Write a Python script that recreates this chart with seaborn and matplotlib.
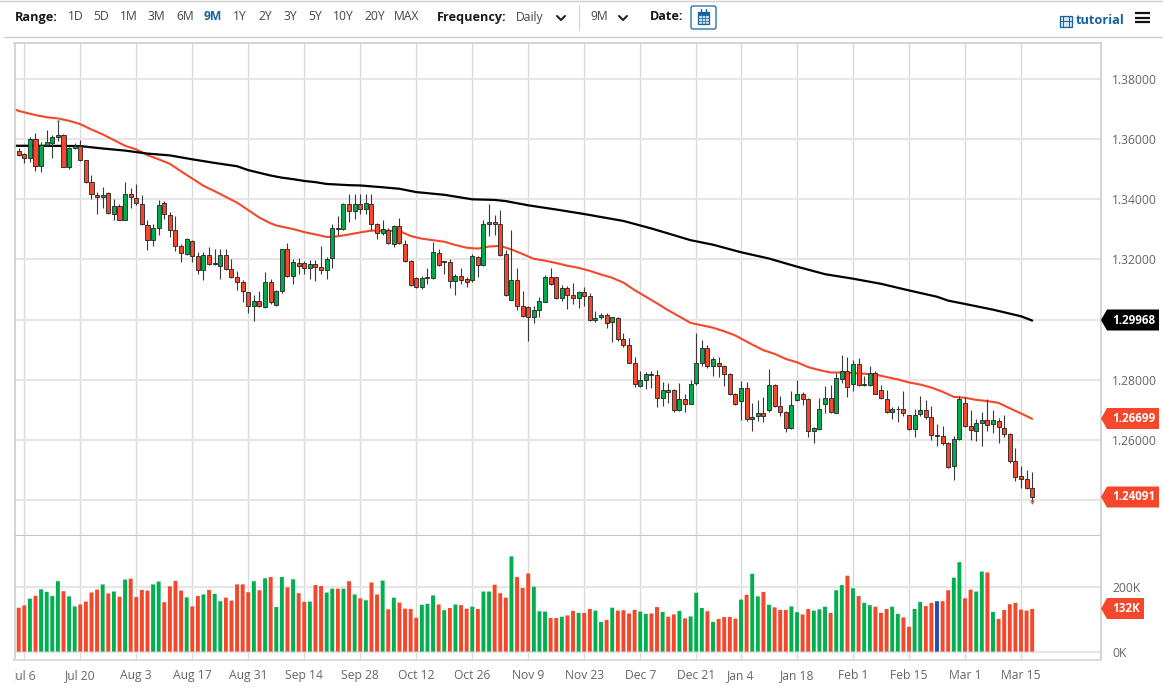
import numpy as np
import pandas as pd
import matplotlib
matplotlib.use('Agg')
import matplotlib.pyplot as plt
import seaborn as sns
from matplotlib.patches import Polygon, Rectangle, FancyBboxPatch
from matplotlib.transforms import Bbox

# daily candles, oldest first
open_px = [
    1.3561,1.3551,1.3538,1.3600,1.3510,1.3581,1.3588,1.3606,1.3613,1.3506,
    1.3571,1.3577,1.3532,1.3456,1.3415,1.3407,1.3422,1.3352,1.3377,1.3331,
    1.3419,1.3404,1.3385,1.3316,1.3264,1.3303,1.3388,1.3349,1.3298,1.3245,
    1.3219,1.3263,1.3213,1.3166,1.3215,1.3184,1.3178,1.3216,1.3169,1.3143,
    1.3124,1.3091,1.3044,1.3062,1.3042,1.3124,1.3048,1.3094,1.3236,1.3145,
    1.3189,1.3189,1.3173,1.3184,1.3176,1.3164,1.3204,1.3306,1.3300,1.3384,
    1.3360,1.3384,1.3369,1.3386,1.3317,1.3288,1.3299,1.3253,1.3310,1.3253,
    1.3194,1.3139,1.3110,1.3137,1.3137,1.3220,1.3190,1.3190,1.3127,1.3144,
    1.3134,1.3133,1.3209,1.3182,1.3319,1.3325,1.3319,1.3217,1.3066,1.3133,
    1.3044,1.3043,1.3007,1.3031,1.3060,1.3140,1.3140,1.3073,1.3104,1.3081,
    1.3072,1.3091,1.3080,1.2997,1.3007,1.3014,1.2992,1.3004,1.2935,1.2917,
    1.2857,1.2779,1.2800,1.2819,1.2817,1.2739,1.2765,1.2765,1.2699,1.2737,
    1.2720,1.2789,1.2855,1.2907,1.2844,1.2857,1.2846,1.2819,1.2752,1.2728,
    1.2774,1.2668,1.2678,1.2689,1.2698,1.2784,1.2712,1.2693,1.2638,1.2731,
    1.2752,1.2736,1.2631,1.2637,1.2719,1.2738,1.2691,1.2804,1.2829,1.2787,
    1.2852,1.2782,1.2784,1.2824,1.2766,1.2737,1.2693,1.2702,1.2703,1.2682,
    1.2636,1.2686,1.2700,1.2676,1.2616,1.2614,1.2589,1.2512,1.2602,1.2723,
    1.2646,1.2631,1.2656,1.2666,1.2654,1.2664,1.2641,1.2618,1.2529,1.2479,
    1.2471,1.2440,
]
high_px = [
    1.3569,1.3554,1.3608,1.3622,1.3591,1.3630,1.3613,1.3663,1.3616,1.3574,
    1.3586,1.3597,1.3532,1.3480,1.3425,1.3441,1.3425,1.3402,1.3384,1.3456,
    1.3436,1.3450,1.3414,1.3330,1.3317,1.3397,1.3394,1.3358,1.3345,1.3253,
    1.3271,1.3264,1.3225,1.3225,1.3241,1.3236,1.3236,1.3236,1.3203,1.3160,
    1.3130,1.3092,1.3083,1.3095,1.3158,1.3136,1.3099,1.3236,1.3256,1.3203,
    1.3206,1.3195,1.3199,1.3199,1.3244,1.3208,1.3317,1.3344,1.3389,1.3416,
    1.3417,1.3416,1.3416,1.3419,1.3321,1.3330,1.3303,1.3314,1.3339,1.3264,
    1.3198,1.3143,1.3145,1.3173,1.3257,1.3236,1.3194,1.3200,1.3150,1.3173,
    1.3140,1.3218,1.3213,1.3330,1.3386,1.3347,1.3366,1.3231,1.3297,1.3173,
    1.3095,1.3045,1.3045,1.3076,1.3148,1.3170,1.3143,1.3115,1.3112,1.3123,
    1.3096,1.3109,1.3087,1.3029,1.3023,1.3021,1.3010,1.3007,1.2957,1.2938,
    1.2874,1.2828,1.2825,1.2830,1.2833,1.2791,1.2789,1.2769,1.2789,1.2754,
    1.2800,1.2955,1.2933,1.2916,1.2877,1.2877,1.2850,1.2822,1.2756,1.2797,
    1.2791,1.2722,1.2733,1.2742,1.2836,1.2787,1.2747,1.2696,1.2763,1.2800,
    1.2758,1.2739,1.2642,1.2739,1.2778,1.2783,1.2822,1.2881,1.2874,1.2867,
    1.2872,1.2811,1.2844,1.2830,1.2783,1.2767,1.2708,1.2711,1.2763,1.2684,
    1.2702,1.2747,1.2731,1.2713,1.2653,1.2647,1.2594,1.2613,1.2747,1.2742,
    1.2700,1.2669,1.2694,1.2736,1.2700,1.2674,1.2683,1.2624,1.2572,1.2513,
    1.2500,1.2492,
]
low_px = [
    1.3543,1.3522,1.3525,1.3493,1.3491,1.3579,1.3538,1.3594,1.3506,1.3502,
    1.3567,1.3528,1.3455,1.3400,1.3352,1.3372,1.3351,1.3332,1.3330,1.3330,
    1.3372,1.3380,1.3315,1.3233,1.3244,1.3280,1.3336,1.3275,1.3227,1.3192,
    1.3214,1.3192,1.3150,1.3133,1.3180,1.3180,1.3136,1.3166,1.3139,1.3097,
    1.3058,1.3022,1.2995,1.3042,1.3039,1.3051,1.3046,1.3089,1.3143,1.3119,
    1.3150,1.3153,1.3134,1.3128,1.3150,1.3136,1.3172,1.3280,1.3297,1.3325,
    1.3336,1.3352,1.3352,1.3299,1.3268,1.3280,1.3250,1.3241,1.3253,1.3193,
    1.3112,1.3105,1.3101,1.3117,1.3136,1.3178,1.3151,1.3105,1.3082,1.3118,
    1.3107,1.3126,1.3143,1.3178,1.3278,1.3281,1.3213,1.3078,1.3065,1.3031,
    1.3009,1.2929,1.2987,1.3010,1.3057,1.3116,1.3067,1.3063,1.3035,1.3051,
    1.3040,1.3046,1.2995,1.2993,1.3002,1.2971,1.2927,1.2930,1.2910,1.2855,
    1.2775,1.2776,1.2770,1.2772,1.2709,1.2714,1.2723,1.2693,1.2695,1.2692,
    1.2718,1.2783,1.2844,1.2839,1.2814,1.2809,1.2780,1.2750,1.2717,1.2667,
    1.2664,1.2631,1.2664,1.2661,1.2694,1.2709,1.2680,1.2626,1.2636,1.2728,
    1.2717,1.2608,1.2591,1.2634,1.2689,1.2690,1.2689,1.2789,1.2741,1.2763,
    1.2780,1.2778,1.2778,1.2751,1.2736,1.2691,1.2669,1.2661,1.2680,1.2633,
    1.2610,1.2681,1.2670,1.2598,1.2581,1.2584,1.2507,1.2467,1.2600,1.2642,
    1.2600,1.2597,1.2578,1.2631,1.2624,1.2591,1.2611,1.2524,1.2463,1.2441,
    1.2437,1.2393,
]
close_px = [
    1.3547,1.3538,1.3602,1.3510,1.3582,1.3591,1.3608,1.3614,1.3508,1.3572,
    1.3578,1.3532,1.3457,1.3416,1.3407,1.3415,1.3354,1.3378,1.3332,1.3419,
    1.3409,1.3388,1.3317,1.3265,1.3306,1.3382,1.3350,1.3298,1.3245,1.3220,
    1.3267,1.3213,1.3166,1.3215,1.3185,1.3189,1.3215,1.3169,1.3143,1.3126,
    1.3096,1.3044,1.3063,1.3044,1.3125,1.3059,1.3095,1.3236,1.3145,1.3190,
    1.3177,1.3173,1.3184,1.3176,1.3164,1.3203,1.3305,1.3300,1.3385,1.3360,
    1.3384,1.3369,1.3387,1.3317,1.3288,1.3301,1.3254,1.3311,1.3255,1.3196,
    1.3115,1.3110,1.3139,1.3140,1.3224,1.3180,1.3194,1.3127,1.3144,1.3133,
    1.3124,1.3210,1.3183,1.3319,1.3325,1.3319,1.3215,1.3081,1.3133,1.3044,
    1.3011,1.3008,1.3032,1.3061,1.3141,1.3120,1.3073,1.3104,1.3081,1.3071,
    1.3093,1.3080,1.2997,1.3006,1.3014,1.2988,1.3007,1.2934,1.2916,1.2857,
    1.2786,1.2799,1.2819,1.2817,1.2739,1.2765,1.2759,1.2699,1.2737,1.2720,
    1.2785,1.2857,1.2907,1.2844,1.2869,1.2846,1.2820,1.2754,1.2720,1.2774,
    1.2669,1.2677,1.2690,1.2678,1.2784,1.2712,1.2694,1.2638,1.2717,1.2752,
    1.2736,1.2631,1.2638,1.2702,1.2739,1.2692,1.2806,1.2829,1.2776,1.2853,
    1.2782,1.2786,1.2824,1.2753,1.2738,1.2693,1.2702,1.2704,1.2691,1.2636,
    1.2684,1.2700,1.2676,1.2616,1.2613,1.2588,1.2511,1.2602,1.2736,1.2646,
    1.2632,1.2656,1.2667,1.2651,1.2666,1.2642,1.2619,1.2530,1.2476,1.2471,
    1.2441,1.24091,
]
volume_k = [
    136,143,164,173,193,185,172,218,187,171,
    140,146,155,183,192,208,180,186,170,223,
    226,169,191,189,208,217,153,202,219,189,
    168,140,172,177,191,179,156,167,158,208,
    208,184,218,190,227,231,138,231,199,224,
    181,154,155,206,203,183,195,195,195,218,
    177,165,159,214,177,220,131,167,152,133,
    132,105,145,148,174,146,128,135,146,144,
    133,139,132,186,186,207,181,167,295,231,
    197,242,201,125,124,104,104,108,112,126,
    120,120,132,127,92,98,136,127,128,118,
    129,124,117,118,138,123,108,115,126,103,
    109,182,135,125,92,101,107,107,102,161,
    176,241,171,185,145,137,129,129,140,122,
    115,132,127,131,139,120,190,206,235,196,
    172,151,144,139,120,132,139,117,106,77,
    132,154,141,151,156,156,190,229,277,165,
    192,186,248,245,123,101,129,147,151,130,
    127,132,
]
hover_bar = 164

# moving averages, read every couple of candles
red_ma_idx = [-0.7,0,3,5,7,9,11,13,15,17,19,21,23,25,27,29,31,33,35,37,39,41,43,45,46,47,49,51,53,55,56,57,59,61,63,65,
              68,69,70,72,74,76,78,80,82,84,86,88,90,92,94,96,98,100,102,104,106,108,110,112,114,116,118,120,122,124,126,
              128,129,131,133,135,137,139,141,143,145,147,149,151,153,155,157,159,161,163,165,167,169,171,173,175,177,179,181]
red_ma = [1.3699,1.3694,1.3680,1.3673,1.3669,1.3661,1.3650,1.3632,1.3616,1.3597,1.3578,1.3566,1.3547,1.3533,1.3518,1.3493,
          1.3469,1.3445,1.3427,1.3408,1.3389,1.3364,1.3339,1.3320,1.3313,1.3309,1.3301,1.3291,1.3283,1.3275,1.3275,1.3277,
          1.3283,1.3290,1.3296,1.3295,1.3295,1.3286,1.3278,1.3269,1.3264,1.3259,1.3248,1.3239,1.3236,1.3243,1.3245,1.3233,
          1.3218,1.3202,1.3196,1.3188,1.3179,1.3172,1.3162,1.3150,1.3139,1.3123,1.3098,1.3076,1.3054,1.3031,1.3010,1.2989,
          1.2981,1.2973,1.2961,1.2947,1.2937,1.2917,1.2898,1.2886,1.2869,1.2858,1.2842,1.2832,1.2824,1.2824,1.2822,1.2820,
          1.2817,1.2809,1.2801,1.2791,1.2784,1.2774,1.2760,1.2743,1.2740,1.2733,1.2729,1.2723,1.2705,1.2688,1.26699]
black_ma_idx = [-0.7,5,11,15,19,23,27,31,35,39,41,43,45,47,49,51,53,55,57,59,61,63,65,68,71,76,81,85,87,91,96,101,108,113,120,124,
                129,134,139,144,149,154,159,164,166,169,174,179,181]
black_ma = [1.3578,1.3578,1.3577,1.3569,1.3562,1.3552,1.3546,1.3533,1.3521,1.3510,1.3497,1.3488,1.3479,1.3472,1.3467,1.3461,
            1.3457,1.3451,1.3449,1.3447,1.3446,1.3443,1.3440,1.3435,1.3424,1.3415,1.3400,1.3398,1.3394,1.3380,1.3366,1.3351,
            1.3328,1.3303,1.3264,1.3249,1.3224,1.3203,1.3176,1.3151,1.3136,1.3119,1.3097,1.3076,1.3063,1.3052,1.3033,1.3011,1.29968]

price_ticks = [1.24,1.26,1.28,1.30,1.32,1.34,1.36,1.38]
# 1.24000 and 1.30000 sit under the value tags in the original
price_labels = ['','1.26000','1.28000','','1.32000','1.34000','1.36000','1.38000']
vol_ticks = [0,200]
date_idx = [1,11,21,31,41,51,61,71,81,91,101,111,121,129,139,149,159,169,179]
date_labels = ['Jul 6','Jul 20','Aug 3','Aug 17','Aug 31','Sep 14','Sep 28','Oct 12','Oct 26','Nov 9',
               'Nov 23','Dec 7','Dec 21','Jan 4','Jan 18','Feb 1','Feb 15','Mar 1','Mar 15']

range_labels = ['1D','5D','1M','3M','6M','9M','1Y','2Y','3Y','5Y','10Y','20Y','MAX']
range_left = [68,93,120,148,176,204,233,258,283,308,333,364,394]

RED = '#f4472b'
GREEN = '#00ab4e'
BLUE = '#1f4fb4'
GREY = '#666666'
NAVY = '#15639f'
W, H = 1163, 687

sns.set_theme(style="white")
plt.rcParams['font.family'] = ['Open Sans', 'DejaVu Sans']

idx = np.arange(len(close_px))
o = np.array(open_px)
c = np.array(close_px)
colors = np.where(c >= o, GREEN, RED)

df = pd.DataFrame({'idx': idx, 'vol': volume_k, 'kind': np.where(c >= o, 'up', 'down')})
df.loc[hover_bar, 'kind'] = 'hover'


def px_axes(fig, left, top, right, bottom):
    return fig.add_axes([left / W, 1 - bottom / H, (right - left) / W, (bottom - top) / H])


fig = plt.figure(figsize=(W / 100, H / 100), dpi=100, facecolor='white')
ax = px_axes(fig, 14.5, 43, 1100.5, 536)
ax_v = px_axes(fig, 14.5, 536, 1100.5, 660)

# price panel: averages under the candles
sns.lineplot(x=red_ma_idx, y=red_ma, color='#f4472b', linewidth=1.5, estimator=None, errorbar=None, ax=ax, zorder=2)
sns.lineplot(x=black_ma_idx, y=black_ma, color='black', linewidth=1.6, estimator=None, errorbar=None, ax=ax, zorder=2)
ax.vlines(idx, low_px, high_px, color='#3a3a3a', linewidth=0.8, zorder=3)
ax.bar(idx, c - o, bottom=o, width=0.72, color=colors, edgecolor='#222222', linewidth=0.6, zorder=4)
ax.plot(7, high_px[7], marker='^', ms=2.5, mfc='none', mec='#7fd6a5', mew=0.6, zorder=5)
ax.plot(181, low_px[181], marker='v', ms=2.5, mfc='none', mec='#f4472b', mew=0.6, zorder=5)

# volume panel
sns.barplot(data=df, x='idx', y='vol', hue='kind', palette={'up': '#00b04f', 'down': RED, 'hover': BLUE},
            hue_order=['up', 'down', 'hover'], native_scale=True, dodge=False, width=0.7, gap=0, saturation=1,
            estimator='mean', errorbar=None, legend=False, ax=ax_v, zorder=3)
# bars come out thin when snapped to whole pixels
for p in ax_v.patches:
    cx = p.get_x() + p.get_width() / 2
    p.set_width(0.7)
    p.set_x(cx - 0.35)
    p.set_snap(False)
    p.set_linewidth(0)

x_min = -0.75
x_max = 193.2
ax.set_xlim(x_min, x_max)
ax_v.set_xlim(x_min, x_max)
ax.set_ylim(1.22803, 1.39198)
ax_v.set_ylim(-26, 358)

for a in (ax, ax_v):
    a.set_xlabel('')
    a.set_ylabel('')
    a.set_axisbelow(True)
    a.set_xticks(date_idx)
    a.grid(True, axis='x', color='#dadada', linewidth=1.0)
    a.grid(True, axis='y', color='#e6e6e6', linewidth=1.5)
    a.yaxis.tick_right()
    a.tick_params(axis='y', length=0, pad=8.5, labelsize=8.7, labelcolor=GREY)
    for s in a.spines.values():
        s.set_visible(False)
    a.spines['left'].set_visible(True)
    a.spines['left'].set_color('#cfcfcf')
    a.spines['right'].set_visible(True)
    a.spines['right'].set_color('#cfcfcf')

ax.spines['top'].set_visible(True)
ax.spines['top'].set_color('#cfcfcf')
ax.spines['bottom'].set_visible(True)
ax.spines['bottom'].set_color('#c8c8c8')
ax.spines['bottom'].set_linewidth(1.6)
ax.spines['bottom'].set_capstyle('butt')
ax.set_yticks(price_ticks)
ax.set_yticklabels(price_labels)
ax.tick_params(axis='x', length=0, labelbottom=False)

ax_v.spines['bottom'].set_visible(True)
ax_v.spines['bottom'].set_color('#dcdcdc')
ax_v.spines['bottom'].set_linewidth(1.4)
ax_v.set_yticks(vol_ticks)
ax_v.set_yticklabels([f'{v}K' for v in vol_ticks])
ax_v.set_xticklabels(date_labels)
ax_v.tick_params(axis='x', length=3.6, width=0.8, color='#d0d0d0', pad=3, labelsize=8.7, labelcolor=GREY)
# first date label is cut by the panel edge
first = ax_v.get_xticklabels()[0]
first.set_clip_box(Bbox([[14.5, 0], [W, H]]))
first.set_clip_on(True)

# overlay in pixel coordinates for the toolbar and value tags
ov = fig.add_axes([0, 0, 1, 1], zorder=10)
ov.set_xlim(0, W)
ov.set_ylim(H, 0)
ov.axis('off')
ov.patch.set_alpha(0)

ov.plot([0, W], [0.5, 0.5], color='#cfcfcf', lw=1.0)
ov.plot([4, W], [37, 37], color='#cfcfcf', lw=1.0)
ov.text(15, 17, 'Range:', fontsize=9.2, fontweight='bold', color='#1a1a1a', va='center')
for lab, lx in zip(range_labels, range_left):
    active = lab == '9M'
    ov.text(lx, 17, lab, fontsize=8.7, va='center', color=NAVY if active else '#444444',
            fontweight='bold' if active else 'normal')
ov.text(437, 17, 'Frequency:', fontsize=9.1, fontweight='bold', color='#1a1a1a', va='center')
ov.text(516, 17, 'Daily', fontsize=8.7, color='#444444', va='center')
ov.plot([557, 561, 565], [16, 20, 16], color='#222222', lw=1.5)
ov.plot([578.5, 578.5], [5, 30], color='#d5d5d5', lw=0.8)
ov.text(590, 17, '9M', fontsize=8.7, color='#444444', va='center')
ov.plot([619, 623, 627], [16, 20, 16], color='#222222', lw=1.5)
ov.text(650, 17, 'Date:', fontsize=9.1, fontweight='bold', color='#1a1a1a', va='center')

# calendar button
ov.add_patch(FancyBboxPatch((691, 6), 25, 23, boxstyle='round,pad=0,rounding_size=2', fc='white', ec=NAVY, lw=0.9))
ov.add_patch(Rectangle((698, 11.5), 11, 12, fc='#cfe0ee', ec=NAVY, lw=0.9))
ov.add_patch(Rectangle((698, 11.5), 11, 3, fc=NAVY, ec=NAVY, lw=0.5))
for gx in (701.5, 705):
    ov.plot([gx, gx], [14, 23.5], color=NAVY, lw=0.5)
for gy in (17.5, 20.5):
    ov.plot([698, 709], [gy, gy], color=NAVY, lw=0.5)
for gx in (701, 706):
    ov.plot([gx, gx], [9, 12.5], color=NAVY, lw=1.0)

# tutorial link and menu
ov.add_patch(Rectangle((1059.5, 15.5), 12, 11, fc='#d6e4f0', ec=NAVY, lw=0.9))
for gx in (1062.5, 1068.5):
    ov.plot([gx, gx], [15.5, 26.5], color=NAVY, lw=0.7)
ov.plot([1059.5, 1071.5], [21, 21], color=NAVY, lw=0.7)
ov.text(1076, 21, 'tutorial', fontsize=9.2, fontweight='bold', color=NAVY, va='center')
for gy in (13, 17.5, 22):
    ov.plot([1135, 1150], [gy, gy], color='#111111', lw=1.6, solid_capstyle='butt')


def value_tag(y, label, fc, right=1159):
    half = 10.5
    ov.add_patch(Polygon([(1101, y), (1107, y - half), (right, y - half), (right, y + half), (1107, y + half)],
                         closed=True, fc=fc, ec='none'))
    ov.text(1112, y, label, fontsize=8.4, fontweight='bold', color='white', va='center')


value_tag(320, '1.29968', 'black')
value_tag(418.5, '1.26699', RED)
value_tag(497, '1.24091', RED)
value_tag(608.5, '132K', RED, right=1144)

fig.savefig('out.png', dpi=100, facecolor='white')
